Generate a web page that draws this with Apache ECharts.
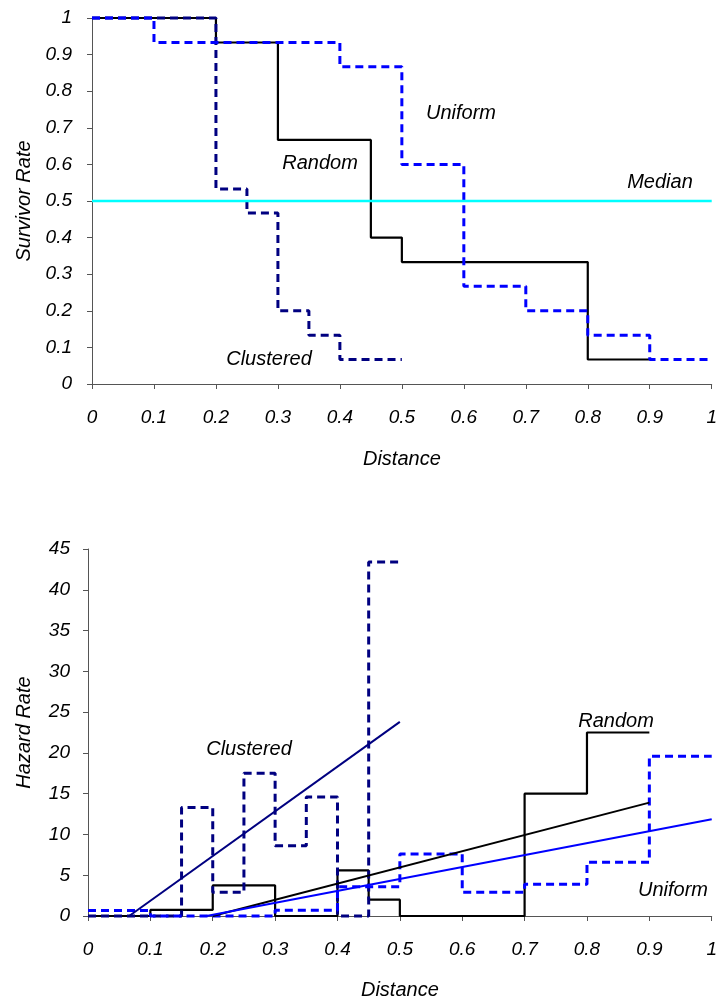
<!DOCTYPE html>
<html>
<head>
<meta charset="utf-8">
<script src="https://cdn.jsdelivr.net/npm/echarts@6/dist/echarts.min.js"></script>
<style>
html,body{margin:0;padding:0;background:#fff;}
#chart{width:720px;height:1003px;}
</style>
</head>
<body>
<div id="chart"></div>
<script>
// ---- Survivor rate (top panel) ----
const survRandomX    = [0, 0.2, 0.3, 0.45, 0.5, 0.8, 0.9];
const survRandom     = [1, 0.933, 0.667, 0.4, 0.333, 0.067];
const survUniformX   = [0, 0.1, 0.4, 0.5, 0.6, 0.7, 0.8, 0.9, 1.0];
const survUniform    = [1, 0.933, 0.867, 0.6, 0.267, 0.2, 0.133, 0.067];
const survClusteredX = [0, 0.2, 0.25, 0.3, 0.35, 0.4, 0.5];
const survClustered  = [1, 0.533, 0.467, 0.2, 0.133, 0.067];
const medianX = [0, 1];
const medianValue = 0.5;

// ---- Hazard rate (bottom panel) ----
const hazRandomX    = [0, 0.1, 0.2, 0.3, 0.4, 0.45, 0.5, 0.7, 0.8, 0.9];
const hazRandom     = [0, 0.75, 3.75, 0, 5.6, 2, 0, 15, 22.5];
const hazUniformX   = [0, 0.1, 0.3, 0.4, 0.5, 0.6, 0.7, 0.8, 0.9, 1.0];
const hazUniform    = [0.67, 0, 0.7, 3.6, 7.6, 2.9, 3.9, 6.6, 19.6];
const hazClusteredX = [0, 0.15, 0.2, 0.25, 0.3, 0.35, 0.4, 0.45, 0.5];
const hazClustered  = [0, 13.3, 2.9, 17.5, 8.6, 14.6, 0, 43.4];

// trend lines (x, y) endpoints
const trendClusteredX = [0.066, 0.5];
const trendClustered  = [0, 23.8];
const trendRandomX    = [0.2, 0.9];
const trendRandom     = [0, 13.9];
const trendUniformX   = [0.19, 1.0];
const trendUniform    = [0, 11.85];

const distTicks = ['0','0.1','0.2','0.3','0.4','0.5','0.6','0.7','0.8','0.9','1'];

function stepData(xs, vs) {
  const d = vs.map((v, i) => [xs[i], v]);
  d.push([xs[xs.length - 1], vs[vs.length - 1]]);
  return d;
}
function pairs(xs, ys) { return xs.map((x, i) => [x, ys[i]]); }

const FONT = 'Liberation Sans, Arial, sans-serif';
const labelStyle = {fontFamily: FONT, fontStyle: 'italic', fontSize: 19, color: '#000'};
const axisLineStyle = {lineStyle: {color: '#555', width: 1}};

function xAxisCfg(grid, gap) {
  return {
    type: 'value', gridIndex: grid, min: 0, max: 1, interval: 0.1,
    axisLine: {show: true, onZero: false, ...axisLineStyle},
    axisTick: {show: true, inside: false, length: 5, lineStyle: {color: '#555'}},
    splitLine: {show: false},
    axisLabel: Object.assign({}, labelStyle, {margin: 24,
      formatter: v => distTicks[Math.round(v * 10)]}),
    name: 'Distance', nameLocation: 'middle', nameGap: gap,
    nameTextStyle: {fontFamily: FONT, fontStyle: 'italic', fontSize: 20, color: '#000'}
  };
}
function yAxisCfg(grid, max, interval, name, gap, margin, fmt) {
  return {
    type: 'value', gridIndex: grid, min: 0, max: max, interval: interval,
    axisLine: {show: true, ...axisLineStyle},
    axisTick: {show: true, inside: false, length: 5, lineStyle: {color: '#555'}},
    splitLine: {show: false},
    axisLabel: Object.assign({}, labelStyle, {margin: margin, formatter: fmt}),
    name: name, nameLocation: 'middle', nameGap: gap,
    nameTextStyle: {fontFamily: FONT, fontStyle: 'italic', fontSize: 20, color: '#000'}
  };
}

function stepSeries(name, xi, yi, xs, vs, color, dashed, width) {
  return {
    name: name, type: 'line', xAxisIndex: xi, yAxisIndex: yi, step: 'end',
    data: stepData(xs, vs), showSymbol: false, clip: false, silent: true,
    lineStyle: {color: color, width: width, type: dashed ? [8, 5] : 'solid'}
  };
}
function lineSeries(name, xi, yi, data, color, width) {
  return {
    name: name, type: 'line', xAxisIndex: xi, yAxisIndex: yi,
    data: data, showSymbol: false, clip: false, silent: true,
    lineStyle: {color: color, width: width}
  };
}

const txt = (text, x, y) => ({type: 'text', x: x, y: y,
  style: {text: text, font: 'italic 20px ' + FONT, fill: '#000', align: 'center', verticalAlign: 'middle'}});

const chart = echarts.init(document.getElementById('chart'));
chart.setOption({
  animation: false,
  backgroundColor: '#fff',
  grid: [
    {left: 92, top: 18, width: 623, height: 366},
    {left: 88, top: 549, width: 631, height: 367}
  ],
  xAxis: [xAxisCfg(0, 65), xAxisCfg(1, 64)],
  yAxis: [
    yAxisCfg(0, 1, 0.1, 'Survivor Rate', 58, 20, v => String(+v.toFixed(1))),
    yAxisCfg(1, 45, 5, 'Hazard Rate', 54, 18, v => String(v))
  ],
  series: [
    stepSeries('Random', 0, 0, survRandomX, survRandom, '#000000', false, 2.2),
    stepSeries('Clustered', 0, 0, survClusteredX, survClustered, '#000080', true, 3),
    stepSeries('Uniform', 0, 0, survUniformX, survUniform, '#0000FF', true, 3),
    lineSeries('Median', 0, 0, medianX.map(x => [x, medianValue]), '#00FFFF', 2.5),

    stepSeries('Random hazard', 1, 1, hazRandomX, hazRandom, '#000000', false, 2.2),
    stepSeries('Clustered hazard', 1, 1, hazClusteredX, hazClustered, '#000080', true, 3),
    stepSeries('Uniform hazard', 1, 1, hazUniformX, hazUniform, '#0000FF', true, 3),
    lineSeries('Clustered trend', 1, 1, pairs(trendClusteredX, trendClustered), '#000080', 2),
    lineSeries('Random trend', 1, 1, pairs(trendRandomX, trendRandom), '#000000', 2),
    lineSeries('Uniform trend', 1, 1, pairs(trendUniformX, trendUniform), '#0000FF', 2)
  ],
  graphic: [
    txt('Uniform', 461, 113),
    txt('Random', 320, 163),
    txt('Median', 660, 182),
    txt('Clustered', 269, 359),
    txt('Clustered', 249, 749),
    txt('Random', 616, 721),
    txt('Uniform', 673, 890)
  ]
});
</script>
</body>
</html>
